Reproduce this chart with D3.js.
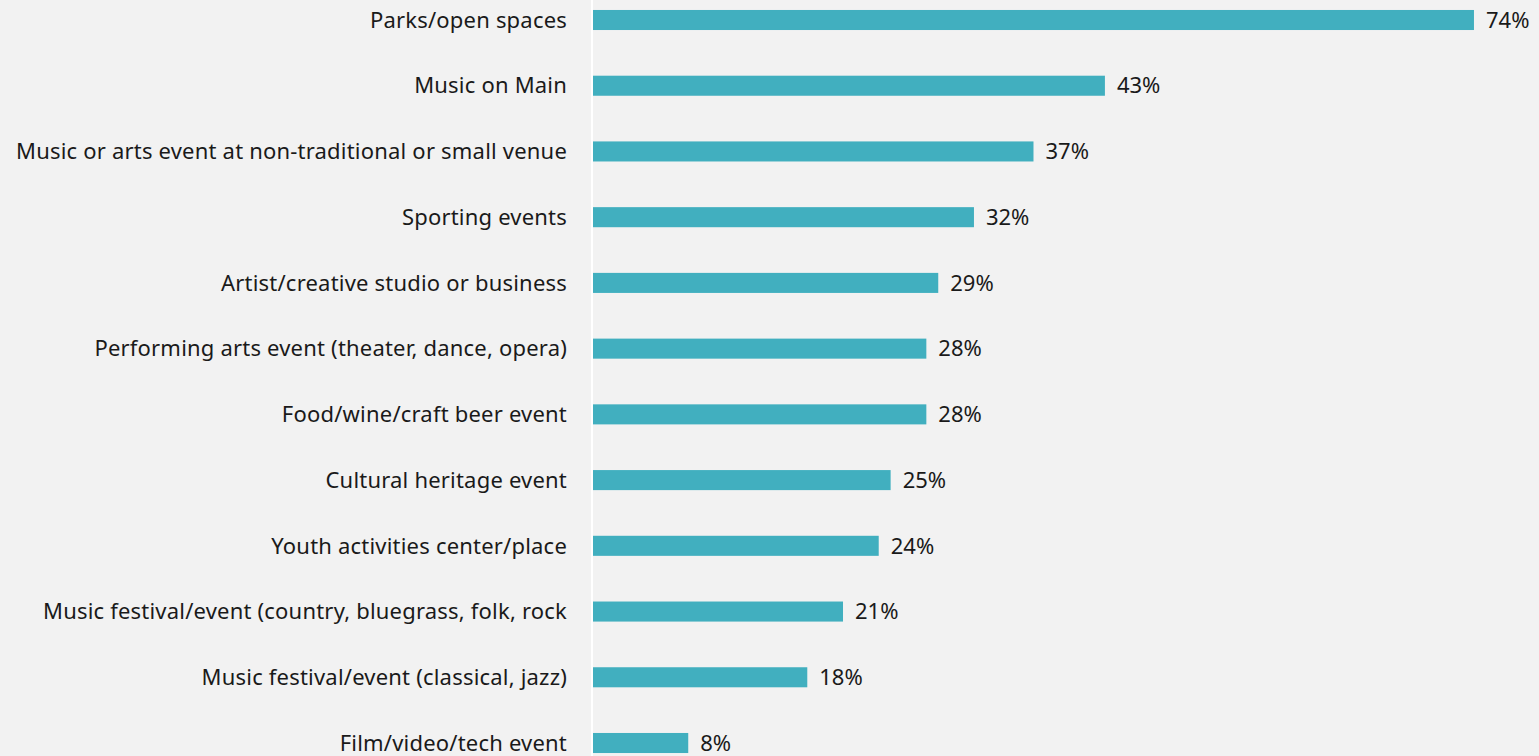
<!DOCTYPE html>
<html><head><meta charset="utf-8">
<script src="https://cdn.jsdelivr.net/npm/d3@7"></script>
<style>html,body{margin:0;padding:0;background:#f2f2f2;overflow:hidden}svg{display:block}</style>
</head><body>
<script>
const categories = ["Parks/open spaces","Music on Main","Music or arts event at non-traditional or small venue","Sporting events","Artist/creative studio or business","Performing arts event (theater, dance, opera)","Food/wine/craft beer event","Cultural heritage event","Youth activities center/place","Music festival/event (country, bluegrass, folk, rock","Music festival/event (classical, jazz)","Film/video/tech event"];
const values = [74,43,37,32,29,28,28,25,24,21,18,8];
const valueLabels = ["74%","43%","37%","32%","29%","28%","28%","25%","24%","21%","18%","8%"];

const W = 1539, H = 756;
const x0 = 593;
const svg = d3.select("body").append("svg").attr("width", W).attr("height", H);
svg.append("rect").attr("width", W).attr("height", H).attr("fill", "#f2f2f2");

const x = d3.scaleLinear().domain([0, 100]).range([x0, x0 + 1190.5]);
const step = (743 - 20) / 11;
const y = d3.scaleBand().domain(categories).range([20 - step/2, 743 + step/2]).paddingInner(0.695).paddingOuter(0.3475);

svg.append("line").attr("x1", x0 - 1).attr("x2", x0 - 1).attr("y1", 0).attr("y2", H)
  .attr("stroke", "#ffffff").attr("stroke-width", 2);

svg.selectAll("rect.bar").data(values).join("rect").attr("class","bar")
  .attr("x", x(0)).attr("y", (d,i)=>y(categories[i]))
  .attr("width", d=>x(d)-x(0)).attr("height", y.bandwidth())
  .attr("fill", "#41afbf");

const font = "'Noto Sans', sans-serif";
svg.selectAll("text.cat").data(categories).join("text").attr("class","cat")
  .attr("x", 567).attr("y", d=>y(d)+y.bandwidth()/2).attr("dy","0.35em")
  .attr("text-anchor","end").attr("font-family", font).attr("font-size", 22)
  .attr("letter-spacing", 0.2)
  .attr("fill","#1a1a1a").text(d=>d);

svg.selectAll("text.val").data(values).join("text").attr("class","val")
  .attr("x", d=>x(d)+12).attr("y", (d,i)=>y(categories[i])+y.bandwidth()/2).attr("dy","0.35em")
  .attr("font-family", font).attr("font-size", 22)
  .attr("fill","#1a1a1a").text((d,i)=>valueLabels[i]);
</script>
</body></html>
